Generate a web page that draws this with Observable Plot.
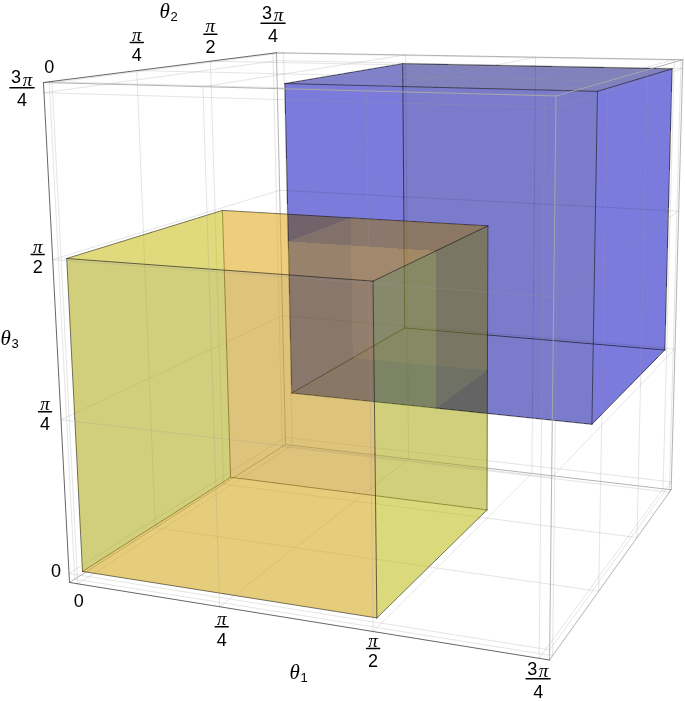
<!DOCTYPE html>
<html><head><meta charset="utf-8">
<style>html,body{margin:0;padding:0;background:#fff}svg{display:block}</style>
<script src="https://cdn.jsdelivr.net/npm/d3@7"></script>
<script src="https://cdn.jsdelivr.net/npm/@observablehq/plot@0.6"></script>
</head><body>
<script>
// Values are in units of pi/4
const tickValues = [0, 1, 2, 3];
const numerators = ["", "", "", "3"];
const denominators = ["0", "4", "2", "4"];
const yellowRange = [0, 2];
const blueRange = [1, 3];
const pad = 0.06;
const span = 3 + 2 * pad;

// Colours per face, keyed by axis + value
const yellowFaces = {u0: "rgb(165,200,18)", u2: "rgb(143,183,18)", v0: "rgb(179,147,18)", v2: "rgb(220,150,18)", w0: "rgb(255,194,18)", w2: "rgb(226,180,18)"};
const blueFaces = {u1: "rgb(177,177,255)", u3: "rgb(177,177,237)", v1: "rgb(177,177,219)", v3: "rgb(177,177,238)", w1: "rgb(177,177,238)", w3: "rgb(186,186,203)"};

// Camera: homogeneous projection of the unit box
const cam = {x: [69, 416.9, 296.1, -28.7], y: [582, 1.66, -13.2, -505.1], w: [1, -0.115, 0.281, -0.062]};
const W = 685, H = 701;
function project(p) {
  const s = (p[0] + pad) / span, t = (p[1] + pad) / span, r = (p[2] + pad) / span;
  const f = c => c[0] + c[1] * s + c[2] * t + c[3] * r;
  const w = f(cam.w);
  return [f(cam.x) / w, f(cam.y) / w];
}
const depth = p => p[0] - p[1] + p[2];
const items = [];
function addCube(range, faces, name) {
  const [lo, hi] = range;
  const cuts = d3.range(lo, hi);
  for (const ax of [0, 1, 2]) {
    const a = (ax + 1) % 3, b = (ax + 2) % 3;
    for (const val of range) {
      const key = "uvw"[ax] + val;
      for (const i of cuts) for (const j of cuts) {
        const corner = (da, db) => { const p = [0, 0, 0]; p[ax] = val; p[a] = i + da; p[b] = j + db; return p; };
        const pts = [corner(0, 0), corner(1, 0), corner(1, 1), corner(0, 1)];
        items.push({kind: "cell", cube: name, fill: faces[key], pts, d: depth(corner(.5, .5))});
      }
    }
    for (const va of range) for (const vb of range) for (const i of cuts) {
      const mk = t => { const p = [0, 0, 0]; p[ax] = t; p[a] = va; p[b] = vb; return p; };
      items.push({kind: "edge", pts: [mk(i), mk(i + 1)], d: depth(mk(i + .5))});
    }
  }
}
addCube(yellowRange, yellowFaces, "y");
addCube(blueRange, blueFaces, "b");
items.sort((p, q) => p.d - q.d);

const bMin = -pad, bMax = 3 + pad;
function gridFor(plane) {
  const [ax, val] = plane;
  const a = (ax + 1) % 3, b = (ax + 2) % 3, out = [];
  for (const k of tickValues) {
    const p1 = [0,0,0], p2 = [0,0,0], q1 = [0,0,0], q2 = [0,0,0];
    p1[ax] = p2[ax] = q1[ax] = q2[ax] = val;
    p1[a] = p2[a] = k; p1[b] = bMin; p2[b] = bMax;
    q1[b] = q2[b] = k; q1[a] = bMin; q2[a] = bMax;
    out.push([p1, p2], [q1, q2]);
  }
  return out;
}
const toRows = (segs) => segs.flatMap((seg, id) => seg.map(p => { const [x, y] = project(p); return {x, y, id}; }));
const backGrid = toRows([[0, bMin], [1, bMax], [2, bMin]].flatMap(gridFor));
const frontGrid = toRows([[0, bMax], [1, bMin], [2, bMax]].flatMap(gridFor));

const L = bMin, R = bMax;
const backEdges = toRows([[[L,R,L],[R,R,L]], [[L,R,L],[L,L,L]], [[L,R,L],[L,R,R]]]);
const frontEdges = toRows([[[R,L,R],[L,L,R]], [[R,L,R],[R,R,R]], [[R,L,R],[R,L,L]], [[R,R,R],[L,R,R]], [[R,R,R],[R,R,L]], [[R,R,L],[R,L,L]]]);
const axisEdges = toRows([[[L,L,L],[R,L,L]], [[L,L,L],[L,L,R]], [[L,L,R],[L,R,R]]]);

const axes = [
  {at: k => [k, L, L], off: [[1, 17], [2, 20], [0, 17], [-1, 20.5]]},
  {at: k => [L, k, R], off: [[0, -15], [0, -28], [0, -27], [0, -30]]},
  {at: k => [L, L, k], off: [[-13, -2], [-16, -8], [-15, -5], [-22, -5]]}
];
const bars = [], nums = [], pis = [], dens = [];
axes.forEach(ax => tickValues.forEach((k, i) => {
  const [px, py] = project(ax.at(k));
  const x = px + ax.off[i][0], y = py + ax.off[i][1];
  if (k === 0) { dens.push({x, y, t: denominators[i]}); return; }
  const n = numerators[i], hw = n ? 12 : 6.5;
  bars.push({x: x - hw, y, id: bars.length}, {x: x + hw, y, id: bars.length});
  if (n) { nums.push({x: x - 6, y: y - 10, t: n}); pis.push({x: x + 5.5, y: y - 8}); }
  else pis.push({x, y: y - 8});
  dens.push({x, y: y + 13, t: denominators[i]});
}));
const titles = [["1", 289, 672], ["2", 159, 11], ["3", 0, 338]].map(d => ({sub: d[0], x: d[1], y: d[2]}));

const marks = [Plot.frame({fill: "white", stroke: "none"})];
const gridStyle = {x: "x", y: "y", z: "id", stroke: "#999", strokeOpacity: 0.32, strokeWidth: 0.8};
marks.push(Plot.line(backGrid, gridStyle));
marks.push(Plot.line(backEdges, {x: "x", y: "y", z: "id", stroke: "#aaa", strokeWidth: 0.9}));
for (const it of items) {
  const rows = it.pts.map(project).map(([x, y]) => ({x, y}));
  if (it.kind === "cell") {
    const style = it.cube === "b" ? {mixBlendMode: "multiply"} : {fillOpacity: 0.33};
    marks.push(Plot.line(rows, {x: "x", y: "y", curve: "linear-closed", stroke: "none", fill: it.fill, shapeRendering: "crispEdges", ...style}));
  } else marks.push(Plot.line(rows, {x: "x", y: "y", stroke: "#222", strokeOpacity: 0.8, strokeWidth: 0.85, strokeLinecap: "round"}));
}
marks.push(Plot.line(frontGrid, gridStyle));
marks.push(Plot.line(frontEdges, {x: "x", y: "y", z: "id", stroke: "#aaa", strokeWidth: 0.9}));
marks.push(Plot.line(axisEdges, {x: "x", y: "y", z: "id", stroke: "#555", strokeWidth: 0.9}));
marks.push(Plot.line(bars, {x: "x", y: "y", z: "id", stroke: "#000", strokeWidth: 1.5}));
const sans = {fontFamily: "Liberation Sans", fontSize: 18, fill: "#000"};
marks.push(Plot.text(dens, {x: "x", y: "y", text: "t", ...sans}));
marks.push(Plot.text(nums, {x: "x", y: "y", text: "t", ...sans}));
marks.push(Plot.text(pis, {x: "x", y: "y", text: () => "π", fontFamily: "Liberation Serif", fontStyle: "italic", fontSize: 19, fill: "#000"}));
marks.push(Plot.text(titles, {x: "x", y: "y", text: () => "θ", fontFamily: "Liberation Serif", fontStyle: "italic", fontSize: 21, fill: "#000", textAnchor: "start"}));
marks.push(Plot.text(titles, {x: d => d.x + 11, y: d => d.y + 5, text: "sub", fontFamily: "Liberation Sans", fontSize: 13, fill: "#000", textAnchor: "start"}));

document.body.append(Plot.plot({
  width: W, height: H, margin: 0,
  x: {type: "linear", domain: [0, W], range: [0, W], axis: null},
  y: {type: "linear", domain: [0, H], range: [0, H], axis: null},
  marks
}));
</script>
</body></html>
